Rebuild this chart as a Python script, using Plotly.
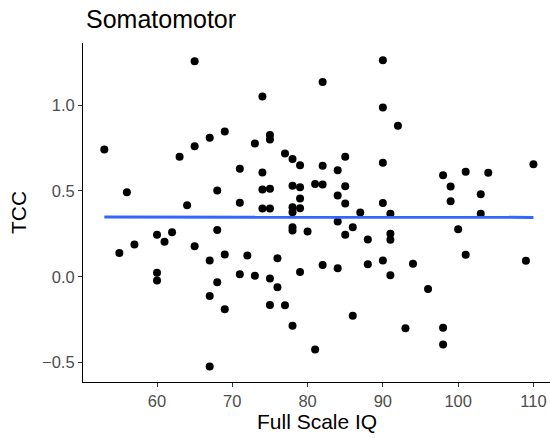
import plotly.graph_objects as go

iq = [53, 55, 56, 57, 60, 60, 60, 61, 62, 63, 64, 65, 65, 65, 67, 67, 67, 67,
      68, 68, 68, 69, 69, 69, 71, 71, 71, 72, 73, 73, 74, 74, 74, 74,
      75, 75, 75, 75, 75, 75, 76, 76, 77, 77, 78, 78, 78, 78, 78, 78, 78,
      79, 79, 79, 79, 79, 80, 81, 81, 82, 82, 82, 82, 84, 84, 84, 84,
      85, 85, 85, 85, 86, 86, 87, 88, 88, 90, 90, 90, 90, 90, 91, 91, 91, 91,
      92, 93, 94, 96, 98, 98, 98, 99, 99, 100, 101, 101, 103, 103, 104, 109, 110]
tcc = [0.742, 0.138, 0.493, 0.188, 0.245, 0.023, -0.022, 0.204, 0.26, 0.699, 0.417,
       1.256, 0.761, 0.178, 0.81, 0.095, -0.113, -0.523,
       0.503, 0.272, -0.033, 0.847, 0.13, -0.19, 0.629, 0.431, 0.015, 0.124, 0.777, 0.006,
       1.051, 0.608, 0.509, 0.398,
       0.827, 0.80, 0.513, 0.398, -0.01, -0.165, 0.107, -0.062, 0.718, -0.167,
       0.686, 0.53, 0.405, 0.376, 0.289, 0.27, -0.286,
       0.65, 0.522, 0.456, 0.40, 0.027, 0.264, 0.54, -0.425, 1.136, 0.647, 0.538, 0.068,
       0.621, 0.474, 0.322, 0.05,
       0.699, 0.528, 0.427, 0.245, 0.289, -0.227, 0.375, 0.217, 0.072,
       1.262, 0.987, 0.664, 0.43, 0.095, 0.367, 0.25, 0.216, 0.008,
       0.88, -0.301, 0.076, -0.072, 0.592, -0.297, -0.395, 0.526, 0.44, 0.277,
       0.612, 0.128, 0.481, 0.367, 0.606, 0.093, 0.656]

fit_x = [53, 110]
fit_y = [0.348, 0.346]

x_ticks = [60, 70, 80, 90, 100, 110]
y_ticks = [-0.5, 0.0, 0.5, 1.0]
y_tick_text = ["\u22120.5", "0.0", "0.5", "1.0"]

font = "Liberation Sans, Arial, sans-serif"

W, H = 550, 438
L, R, T, B = 83, 0, 43, 56
PH = H - T - B
PW = W - L - R

fig = go.Figure()
fig.add_trace(go.Scatter(x=iq, y=tcc, mode="markers",
                         marker=dict(color="black", size=8, line=dict(width=0)),
                         showlegend=False, hoverinfo="skip"))
fig.add_trace(go.Scatter(x=fit_x, y=fit_y, mode="lines",
                         line=dict(color="#3366FF", width=3),
                         showlegend=False, hoverinfo="skip"))

annotations = [
    dict(text="Somatomotor", xref="paper", yref="paper",
         x=(84 - L) / PW, y=1 + (T - 19) / PH, xanchor="left", yanchor="middle",
         showarrow=False, font=dict(size=25, color="black", family=font)),
    dict(text="Full Scale IQ", xref="paper", yref="paper",
         x=0.5, y=-(421 - (T + PH)) / PH, xanchor="center", yanchor="middle",
         showarrow=False, font=dict(size=21, color="black", family=font)),
    dict(text="TCC", xref="paper", yref="paper", textangle=-90,
         x=-(L - 18.5) / PW, y=0.5, xanchor="center", yanchor="middle",
         showarrow=False, font=dict(size=21, color="black", family=font)),
]

fig.update_layout(
    width=W, height=H,
    margin=dict(l=L, r=R, t=T, b=B, autoexpand=False),
    paper_bgcolor="white", plot_bgcolor="white",
    font=dict(family=font, color="black"),
    annotations=annotations,
    xaxis=dict(range=[50.17, 112.2], tickvals=x_ticks, showgrid=False, zeroline=False,
               automargin=False,
               showline=True, linecolor="black", linewidth=1.1,
               ticks="outside", ticklen=4, tickcolor="#333333", tickwidth=1.1,
               tickfont=dict(size=16.5, color="#4D4D4D")),
    yaxis=dict(range=[-0.614, 1.363], tickvals=y_ticks, ticktext=y_tick_text,
               automargin=False,
               showgrid=False, zeroline=False,
               showline=True, linecolor="black", linewidth=1.1,
               ticks="outside", ticklen=4, tickcolor="#333333", tickwidth=1.1,
               tickfont=dict(size=16.5, color="#4D4D4D")),
)

fig.write_html("out.html")
